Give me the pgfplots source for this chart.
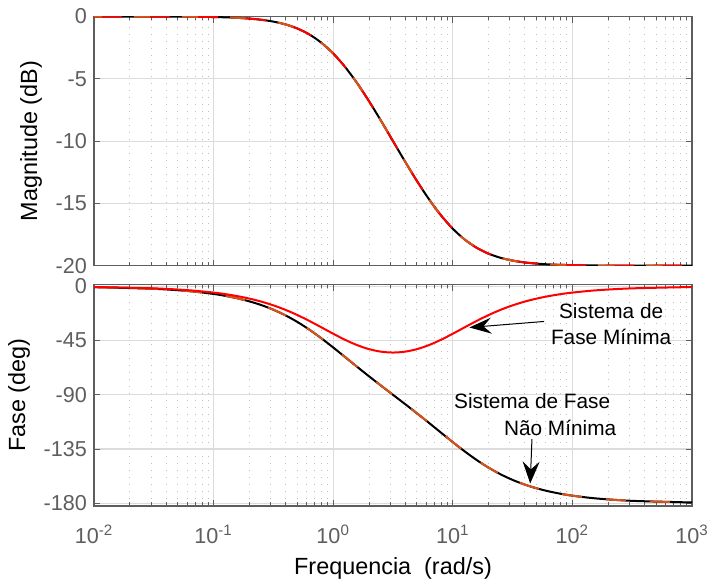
\documentclass[border=0pt]{standalone}
\usepackage{fontspec}
\setmainfont{Liberation Sans}
\usepackage{pgfplots}
\usepackage{pgfplotstable}
\pgfplotsset{compat=1.18}
\usetikzlibrary{arrows.meta}
\definecolor{axgray}{HTML}{5E5E5E}
\definecolor{gridgray}{HTML}{DCDCDC}
\definecolor{mlorange}{HTML}{D95319}

% w (rad/s), magnitude (dB), phase minimum, phase non-minimum (deg)
\pgfplotstableread{
w        mag       pmin     pnon
0.01     -0.0004   -0.52    -0.63
0.031623 -0.0043   -1.63    -1.99
0.063096 -0.0171   -3.25    -3.97
0.1      -0.0428   -5.14    -6.28
0.125893 -0.0676   -6.45    -7.90
0.158489 -0.1065   -8.10    -9.91
0.199526 -0.1678   -10.14   -12.43
0.251189 -0.2630   -12.66   -15.54
0.316228 -0.4096   -15.74   -19.36
0.398107 -0.6320   -19.43   -23.99
0.501187 -0.9623   -23.75   -29.49
0.630957 -1.4381   -28.64   -35.86
0.794328 -2.0971   -33.92   -43.00
1        -2.9671   -39.29   -50.71
1.258925 -4.0562   -44.37   -58.72
1.584893 -5.3478   -48.74   -66.76
1.995262 -6.8037   -52.10   -74.66
2.511886 -8.3732   -54.19   -82.39
3.162278 -10.0000  -54.90   -90.00
3.981072 -11.6268  -54.19   -97.61
5.011872 -13.1963  -52.10   -105.34
6.309573 -14.6522  -48.74   -113.24
7.943282 -15.9439  -44.37   -121.29
10       -17.0329  -39.29   -129.29
12.58925 -17.9028  -33.92   -137.00
15.84893 -18.5619  -28.64   -144.14
19.95262 -19.0377  -23.75   -150.51
25.11886 -19.3680  -19.43   -156.01
31.62278 -19.5904  -15.74   -160.64
39.81072 -19.7370  -12.66   -164.46
50.11872 -19.8322  -10.14   -167.58
63.09573 -19.8935  -8.10    -170.08
79.43282 -19.9324  -6.45    -172.11
100      -19.9572  -5.14    -173.72
158.4893 -19.9829  -3.25    -176.03
316.2278 -19.9957  -1.63    -178.01
1000     -19.9996  -0.51    -179.37
}\bode

\pgfplotsset{every axis/.append style={
  scale only axis, width=299pt, xmin=0.01, xmax=1000,
  xtick={0.01,0.1,1,10,100,1000},
  minor xtick={0.02,0.03,0.04,0.05,0.06,0.07,0.08,0.09,0.2,0.3,0.4,0.5,0.6,0.7,0.8,0.9,2,3,4,5,6,7,8,9,20,30,40,50,60,70,80,90,200,300,400,500,600,700,800,900},
  axis line style={axgray, line width=0.6pt},
  tick style={axgray, line width=0.5pt}, tick align=inside,
  major tick length=3pt, minor tick length=1.8pt,
  xmajorgrids, ymajorgrids, xminorgrids,
  major grid style={gridgray, line width=0.6pt},
  minor grid style={gray!50, line width=0.5pt, dash pattern=on 0.5pt off 3pt},
  ticklabel style={font=\fontsize{10.8}{12}\selectfont, text=axgray},
  label style={font=\fontsize{11.7}{13}\selectfont},
}}

\begin{document}
\begin{tikzpicture}
\begin{semilogxaxis}[name=mag, at={(0,120.15pt)}, anchor=south west,
  height=124.6pt, ymin=-20, ymax=0,
  ytick={-20,-15,-10,-5,0}, yticklabels={-20,-15,-10,-5,0},
  xticklabels={}, ylabel={Magnitude (dB)}]
\addplot[black, line width=1pt, smooth] table[x=w, y=mag] {\bode};
\addplot[red, line width=1pt, smooth, dash pattern=on 14pt off 10pt] table[x=w, y=mag] {\bode};
\addplot[mlorange, line width=1pt, smooth, dash pattern=on 8pt off 16pt, dash phase=4pt] table[x=w, y=mag] {\bode};
\end{semilogxaxis}

\begin{semilogxaxis}[name=ph, at={(0,0)}, anchor=south west,
  height=110.65pt, ymin=-182.3, ymax=1.4,
  ytick={-180,-135,-90,-45,0}, yticklabels={-180,-135,-90,-45,0},
  xticklabels={10\textsuperscript{-2},10\textsuperscript{-1},10\textsuperscript{0},10\textsuperscript{1},10\textsuperscript{2},10\textsuperscript{3}},
  xticklabel style={yshift=-6pt},
  xlabel style={yshift=0pt},
  ylabel={Fase (deg)}, xlabel={Frequencia\ \ (rad/s)}]
\addplot[black, line width=1pt, smooth] table[x=w, y=pnon] {\bode};
\addplot[mlorange, line width=1pt, smooth, dash pattern=on 10pt off 12pt] table[x=w, y=pnon] {\bode};
\addplot[red, line width=1pt, smooth] table[x=w, y=pmin] {\bode};
\draw[line width=0.5pt, -{Stealth[length=11pt, width=8pt, inset=4pt]}]
  (axis cs:58.1,-29.1) -- (axis cs:13.77,-34.1);
\draw[line width=0.5pt, -{Stealth[length=11pt, width=8.5pt, inset=4pt]}]
  (axis cs:45.9,-126.7) -- (axis cs:44.4,-163.6);
\begin{scope}[every node/.style={font=\fontsize{10.4}{12}\selectfont, inner sep=0pt}]
\node at (axis cs:210.8,-20.2) {Sistema de};
\node at (axis cs:210.8,-41.8) {Fase Mínima};
\node at (axis cs:46.1,-94.8) {Sistema de Fase};
\node at (axis cs:79.0,-117.5) {Não Mínima};
\end{scope}
\end{semilogxaxis}
\pgfresetboundingbox
\path[use as bounding box] (-47pt,-36.5pt) rectangle (308pt,253pt);
\end{tikzpicture}
\end{document}
